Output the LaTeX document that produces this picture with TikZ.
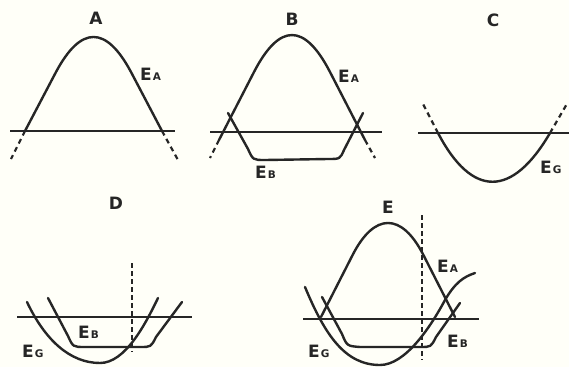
\documentclass[tikz,border=0pt]{standalone}
\usepackage{fontspec}
\setmainfont{DejaVu Sans}
\definecolor{ink}{HTML}{262626}
\definecolor{paper}{HTML}{FFFFF8}
\begin{document}
\begin{tikzpicture}[x=1pt,y=-1pt,
  curve/.style={draw=ink,line width=2.4pt,line cap=round,line join=round},
  axis/.style={draw=ink,line width=1.7pt},
  dsh/.style={draw=ink,line width=2.2pt,dash pattern=on 5pt off 4pt},
  vdsh/.style={draw=ink,line width=1.8pt,dash pattern=on 5pt off 3pt},
  title/.style={font=\fontsize{17}{17}\selectfont\bfseries,text=ink,inner sep=0pt},
  lbl/.style={font=\fontsize{17}{17}\selectfont\bfseries,text=ink,inner sep=0pt,anchor=base west}]
\fill[paper] (0,0) rectangle (569,367);
\useasboundingbox (0,0) rectangle (569,367);
\newcommand{\lab}[1]{E\hspace{1pt}{\fontsize{10.5}{10.5}\selectfont #1}}
% ---------- A ----------
\node[title] (tA) at (96,18.5) {A};
\draw[axis] (10,131) -- (175,131);
\draw[curve] (25,131) -- (56,72) .. controls (81,25.3) and (106,25.3) .. (131,72) -- (162,131);
\draw[dsh] (25,131) -- (11,159);
\draw[dsh] (162,131) -- (178,160);
\node[lbl] (eaA) at (140,80) {\lab{A}};
% ---------- B ----------
\node[title] (tB) at (292,19) {B};
\draw[axis] (210,132) -- (382,132);
\draw[curve] (219,140) -- (254,72) .. controls (279.5,22.7) and (304.5,22.7) .. (330,72) -- (365,140);
\draw[dsh] (219,140) -- (210,158);
\draw[dsh] (365,140) -- (375,158);
\draw[curve] (228,113) -- (248,149) .. controls (253,160) .. (265,160) -- (328,159) .. controls (340,159) .. (344,150) -- (363,113);
\node[lbl] (eaB) at (338,82) {\lab{A}};
\node[lbl] (ebB) at (255,178) {\lab{B}};
% ---------- C ----------
\node[title] (tC) at (493,20) {C};
\draw[axis] (418,133) -- (569,133);
\draw[curve] (438,133) .. controls (472,198) and (512,198) .. (550,133);
\draw[dsh] (438,133) -- (422,102);
\draw[dsh] (550,133) -- (568,102);
\node[lbl] (egC) at (540,173) {\lab{G}};
% ---------- D ----------
\node[title] (tD) at (116,203) {D};
\draw[axis] (17,317) -- (192,317);
\draw[vdsh] (132,263) -- (132,352);
\draw[curve] (48,298) -- (68,336) .. controls (73,347) .. (85,347) -- (140,347) .. controls (151,347) .. (156,337) -- (182,302);
\draw[curve] (27,302) .. controls (45,340) and (70,363) .. (100,363) .. controls (125,363) and (145,325) .. (158,298);
\node[lbl] (ebD) at (78,338) {\lab{B}};
\node[lbl] (egD) at (22,357) {\lab{G}};
% ---------- E ----------
\node[title] (tE) at (388,207) {E};
\draw[axis] (303,319) -- (479,319);
\draw[vdsh] (422,215) -- (422,360);
\draw[curve] (321,317) -- (352.6,255) .. controls (374.4,212.3) and (401.6,212.3) .. (423.4,255) -- (455,317);
\draw[curve] (322,297) -- (342,334) .. controls (347,346) .. (360,347) -- (420,347) .. controls (431,347) .. (436,337) -- (460,303);
\draw[curve] (305,287) .. controls (325,335) and (345,365) .. (380,365) .. controls (405,365) and (430,328) .. (445,300) .. controls (455,283) and (463,277) .. (475,273);
\node[lbl] (eaE) at (437,272) {\lab{A}};
\node[lbl] (ebE) at (447,347) {\lab{B}};
\node[lbl] (egE) at (308,357) {\lab{G}};
\end{tikzpicture}
\end{document}
